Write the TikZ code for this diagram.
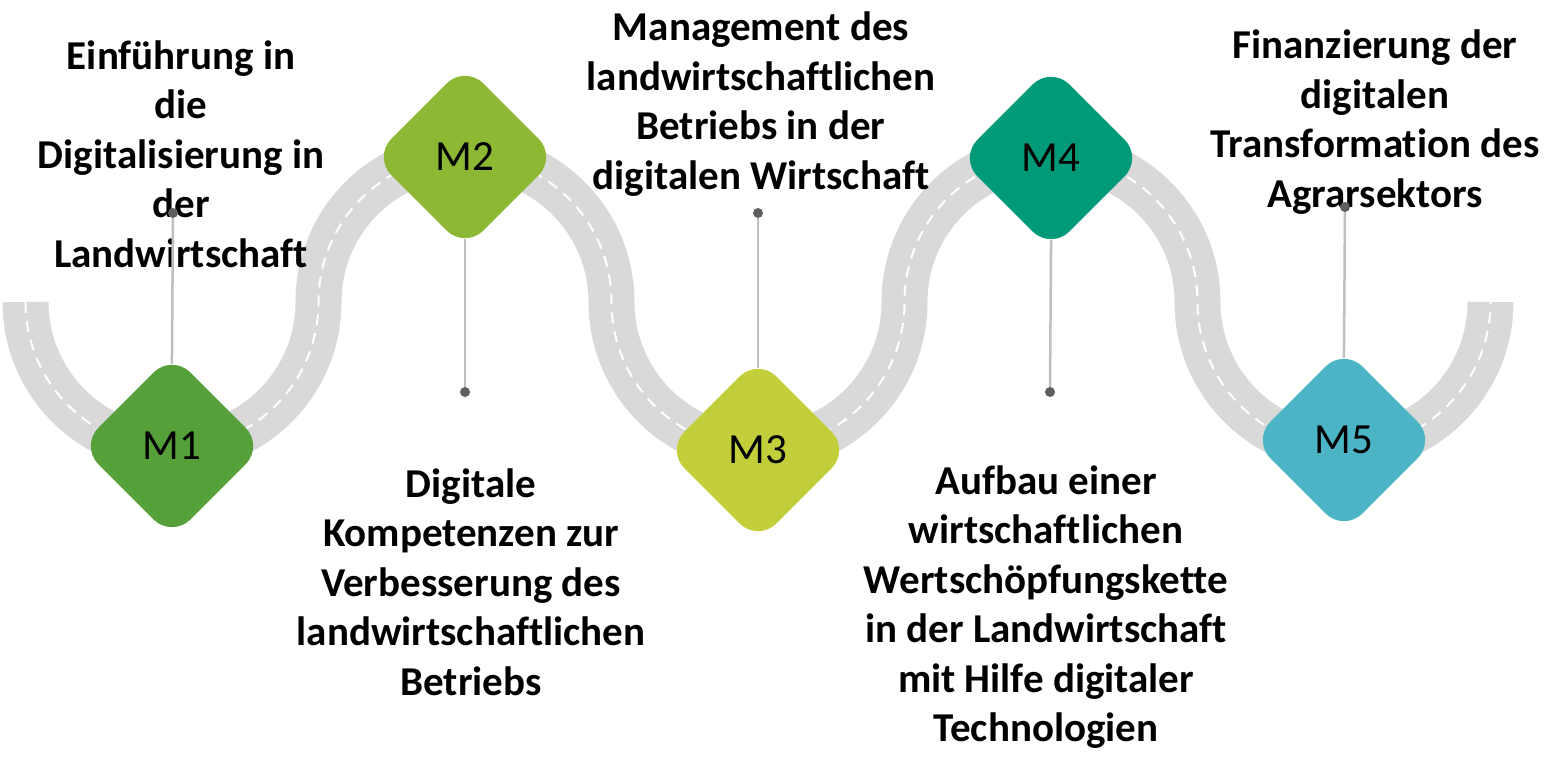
\documentclass[tikz,border=0pt]{standalone}
\usepackage{fontspec}
\setmainfont{Carlito}[Ligatures=NoCommon]
\usetikzlibrary{shapes.geometric}
\definecolor{roadgray}{HTML}{D9D9D9}
\definecolor{stemgray}{HTML}{BFBFBF}
\definecolor{dotgray}{HTML}{5F5F5F}
\definecolor{mone}{HTML}{56A03A}
\definecolor{mtwo}{HTML}{8CB833}
\definecolor{mthree}{HTML}{C2CF3A}
\definecolor{mfour}{HTML}{009A78}
\definecolor{mfive}{HTML}{4BB5C5}

\begin{document}
\begin{tikzpicture}[x=1pt, y=1pt,
    milestone/.style={diamond, aspect=1, minimum size=184pt, inner sep=0pt, rounded corners=26pt, font=\fontsize{43}{50}\selectfont},
    stem/.style={draw=stemgray, line width=2.5pt, shorten <=-10pt},
    caption/.style={align=center, inner sep=0pt, font=\bfseries\fontsize{41}{49.5}\selectfont},
    road/.style={draw=roadgray, line width=46pt, postaction={draw=white, line width=2pt, dash pattern=on 11pt off 8pt}}]
    \useasboundingbox (0,0) rectangle (1548,760);
    \draw[road] (25.5,458)
        arc[start angle=180, end angle=360, radius=146.5]
        arc[start angle=180, end angle=0, radius=146.5]
        arc[start angle=180, end angle=360, radius=146.5]
        arc[start angle=180, end angle=0, radius=146.5]
        arc[start angle=180, end angle=360, radius=146.5];
    \node[milestone, fill=mone] (m1) at (172,314) {M1};
    \node[milestone, fill=mtwo] (m2) at (465,603) {M2};
    \node[milestone, fill=mthree] (m3) at (758,310) {M3};
    \node[milestone, fill=mfour] (m4) at (1051,602) {M4};
    \node[milestone, fill=mfive] (m5) at (1344,320) {M5};
    \node[caption] (t1) at (181,606) {Einführung in\\die\\Digitalisierung in\\der\\Landwirtschaft};
    \node[caption] (t2) at (471,178) {Digitale\\Kompetenzen zur\\Verbesserung des\\landwirtschaftlichen\\Betriebs};
    \node[caption] (t3) at (761,656) {Management des\\landwirtschaftlichen\\Betriebs in der\\digitalen Wirtschaft};
    \node[caption] (t4) at (1046,153) {Aufbau einer\\wirtschaftlichen\\Wertschöpfungskette\\in der Landwirtschaft\\mit Hilfe digitaler\\Technologien};
    \node[caption] (t5) at (1375,638) {Finanzierung der\\digitalen\\Transformation des\\Agrarsektors};
    \coordinate (d1) at (173,547);
    \coordinate (d2) at (465,368);
    \coordinate (d3) at (758,547);
    \coordinate (d4) at (1050,368);
    \coordinate (d5) at (1345,553);
    \foreach \m/\tip in {1/north, 2/south, 3/north, 4/south, 5/north}{
        \draw[stem] (m\m.\tip) -- (d\m);
        \fill[dotgray] (d\m) circle (5pt);
    }
\end{tikzpicture}
\end{document}
